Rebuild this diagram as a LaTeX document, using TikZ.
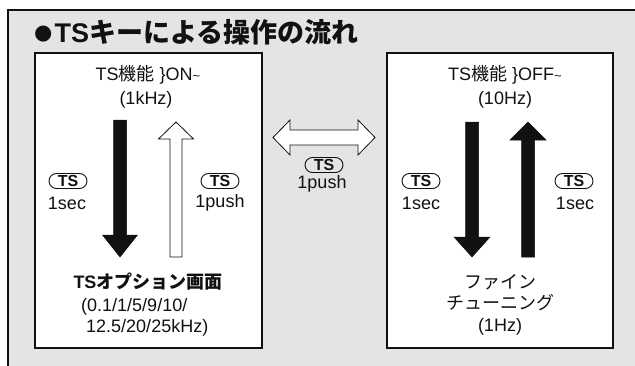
\documentclass[tikz,border=0pt]{standalone}
\usepackage{fontspec}
\setmainfont{Liberation Sans}
\newfontfamily\jpfont{Noto Sans CJK JP}
\newfontfamily\symfont{DejaVu Sans}
\usepackage{xcolor}
\usetikzlibrary{calc,positioning}
\definecolor{panelgray}{HTML}{E4E4E4}
\definecolor{ink}{HTML}{111111}
\tikzset{
  outerframe/.style={draw=ink,line width=1.3pt,fill=panelgray},
  statebox/.style={draw=ink,fill=white,line width=1.3pt,inner sep=0pt},
  bodytext/.style={inner sep=0pt,text=ink,font=\fontsize{18}{21}\selectfont},
  tsbadge/.style={draw=ink,line width=0.9pt,rounded corners=7.5pt,inner sep=0pt,
                  minimum width=38pt,minimum height=15pt,text=ink,
                  font=\fontsize{16}{16}\selectfont\bfseries},
  solidarrow/.style={fill=ink,draw=ink,line width=0.5pt},
  hollowarrow/.style={fill=white,draw=ink,line width=0.8pt}
}
\newcommand{\ja}[1]{{\jpfont #1}}
\newcommand{\tilda}{{\fontsize{13}{13}\selectfont\textasciitilde}}
% block arrow: style, tail, tip, shaft half width, head half width, head length
\newcommand{\blockarrow}[6][]{%
  \draw[#1] let \p1=(#2), \p2=(#3),
      \n1={veclen(\x2-\x1,\y2-\y1)},
      \n2={(\x2-\x1)/\n1}, \n3={(\y2-\y1)/\n1}, \n4={\n1-#6}
    in ({\x1-#4*\n3},{\y1+#4*\n2})
    -- ({\x1+\n4*\n2-#4*\n3},{\y1+\n4*\n3+#4*\n2})
    -- ({\x1+\n4*\n2-#5*\n3},{\y1+\n4*\n3+#5*\n2})
    -- (\x2,\y2)
    -- ({\x1+\n4*\n2+#5*\n3},{\y1+\n4*\n3-#5*\n2})
    -- ({\x1+\n4*\n2+#4*\n3},{\y1+\n4*\n3-#4*\n2})
    -- ({\x1+#4*\n3},{\y1-#4*\n2}) -- cycle;}
% two-headed block arrow: style, end, end, shaft half width, head half width, head length
\newcommand{\twinarrow}[6][]{%
  \draw[#1] let \p1=(#2), \p2=(#3),
      \n1={veclen(\x2-\x1,\y2-\y1)},
      \n2={(\x2-\x1)/\n1}, \n3={(\y2-\y1)/\n1}, \n4={\n1-#6}, \n5={#6}
    in (\x1,\y1)
    -- ({\x1+\n5*\n2-#5*\n3},{\y1+\n5*\n3+#5*\n2})
    -- ({\x1+\n5*\n2-#4*\n3},{\y1+\n5*\n3+#4*\n2})
    -- ({\x1+\n4*\n2-#4*\n3},{\y1+\n4*\n3+#4*\n2})
    -- ({\x1+\n4*\n2-#5*\n3},{\y1+\n4*\n3+#5*\n2})
    -- (\x2,\y2)
    -- ({\x1+\n4*\n2+#5*\n3},{\y1+\n4*\n3-#5*\n2})
    -- ({\x1+\n4*\n2+#4*\n3},{\y1+\n4*\n3-#4*\n2})
    -- ({\x1+\n5*\n2+#4*\n3},{\y1+\n5*\n3-#4*\n2})
    -- ({\x1+\n5*\n2+#5*\n3},{\y1+\n5*\n3-#5*\n2}) -- cycle;}

\begin{document}
\begin{tikzpicture}[x=1pt,y=1pt]
  \useasboundingbox (0,0) rectangle (635,365);
  \clip (0,0) rectangle (635,365);
  \draw[outerframe] (8,-20) rectangle (660,355);

  \node[anchor=west,inner sep=0pt,text=ink,font=\fontsize{27}{30}\selectfont\bfseries]
    (title) at (34,333) {\raisebox{2.5pt}{\symfont\fontsize{21}{21}\selectfont ●}\hspace{2pt}TS\ja{キーによる操作の流れ}};

  \node[statebox,minimum width=227pt,minimum height=295pt] (onpanel) at (148.5,164.5) {};
  \node[statebox,minimum width=226pt,minimum height=295pt] (offpanel) at (500,164.5) {};

  % TS on side
  \node[bodytext] (onhead) at (148,290) {TS\ja{機能}\ \}ON\tilda};
  \node[bodytext] (onstep) at (146,265) {(1kHz)};
  \coordinate (ondowntop) at (120,245);
  \coordinate (ondowntip) at (120,108);
  \coordinate (onupfoot) at (176,108);
  \coordinate (onuptip) at (176,243);
  \blockarrow[solidarrow]{ondowntop}{ondowntip}{6.5}{17.5}{22}
  \blockarrow[hollowarrow]{onupfoot}{onuptip}{6}{17.5}{17}
  \node[tsbadge] (onkeyl) at (68,184) {TS};
  \node[bodytext] (onholdl) at (67,162) {1sec};
  \node[tsbadge] (onkeyr) at (220,184) {TS};
  \node[bodytext] (onpushr) at (220,162) {1push};
  \node[bodytext,font=\fontsize{18}{21}\selectfont\bfseries] (optscreen) at (148,83)
    {TS\ja{オプション画面}};
  \node[bodytext,anchor=west] (optsteps) at (81,58) {(0.1/1/5/9/10/};
  \node[bodytext,anchor=west] (optstepsb) at (86,37) {12.5/20/25kHz)};

  % toggle between panels
  \coordinate (swapl) at (273,227.5);
  \coordinate (swapr) at (375,227.5);
  \twinarrow[hollowarrow]{swapl}{swapr}{7.5}{17.5}{17}
  \node[tsbadge] (swapkey) at (324,200) {TS};
  \node[bodytext] (swappush) at (322,181) {1push};

  % TS off side
  \node[bodytext] (offhead) at (505,290) {TS\ja{機能}\ \}OFF\tilda};
  \node[bodytext] (offstep) at (505,265) {(10Hz)};
  \coordinate (offdowntop) at (472,243);
  \coordinate (offdowntip) at (472,108);
  \coordinate (offupfoot) at (528,108);
  \coordinate (offuptip) at (528,243);
  \blockarrow[solidarrow]{offdowntop}{offdowntip}{6.5}{18}{20}
  \blockarrow[solidarrow]{offupfoot}{offuptip}{6.5}{18}{18}
  \node[tsbadge] (offkeyl) at (421,184) {TS};
  \node[bodytext] (offholdl) at (421,162) {1sec};
  \node[tsbadge] (offkeyr) at (574,184) {TS};
  \node[bodytext] (offholdr) at (575,162) {1sec};
  \node[bodytext] (finea) at (500,83) {\ja{ファイン}};
  \node[bodytext] (fineb) at (500,62) {\ja{チューニング}};
  \node[bodytext] (finestep) at (500,38) {(1Hz)};
\end{tikzpicture}
\end{document}
